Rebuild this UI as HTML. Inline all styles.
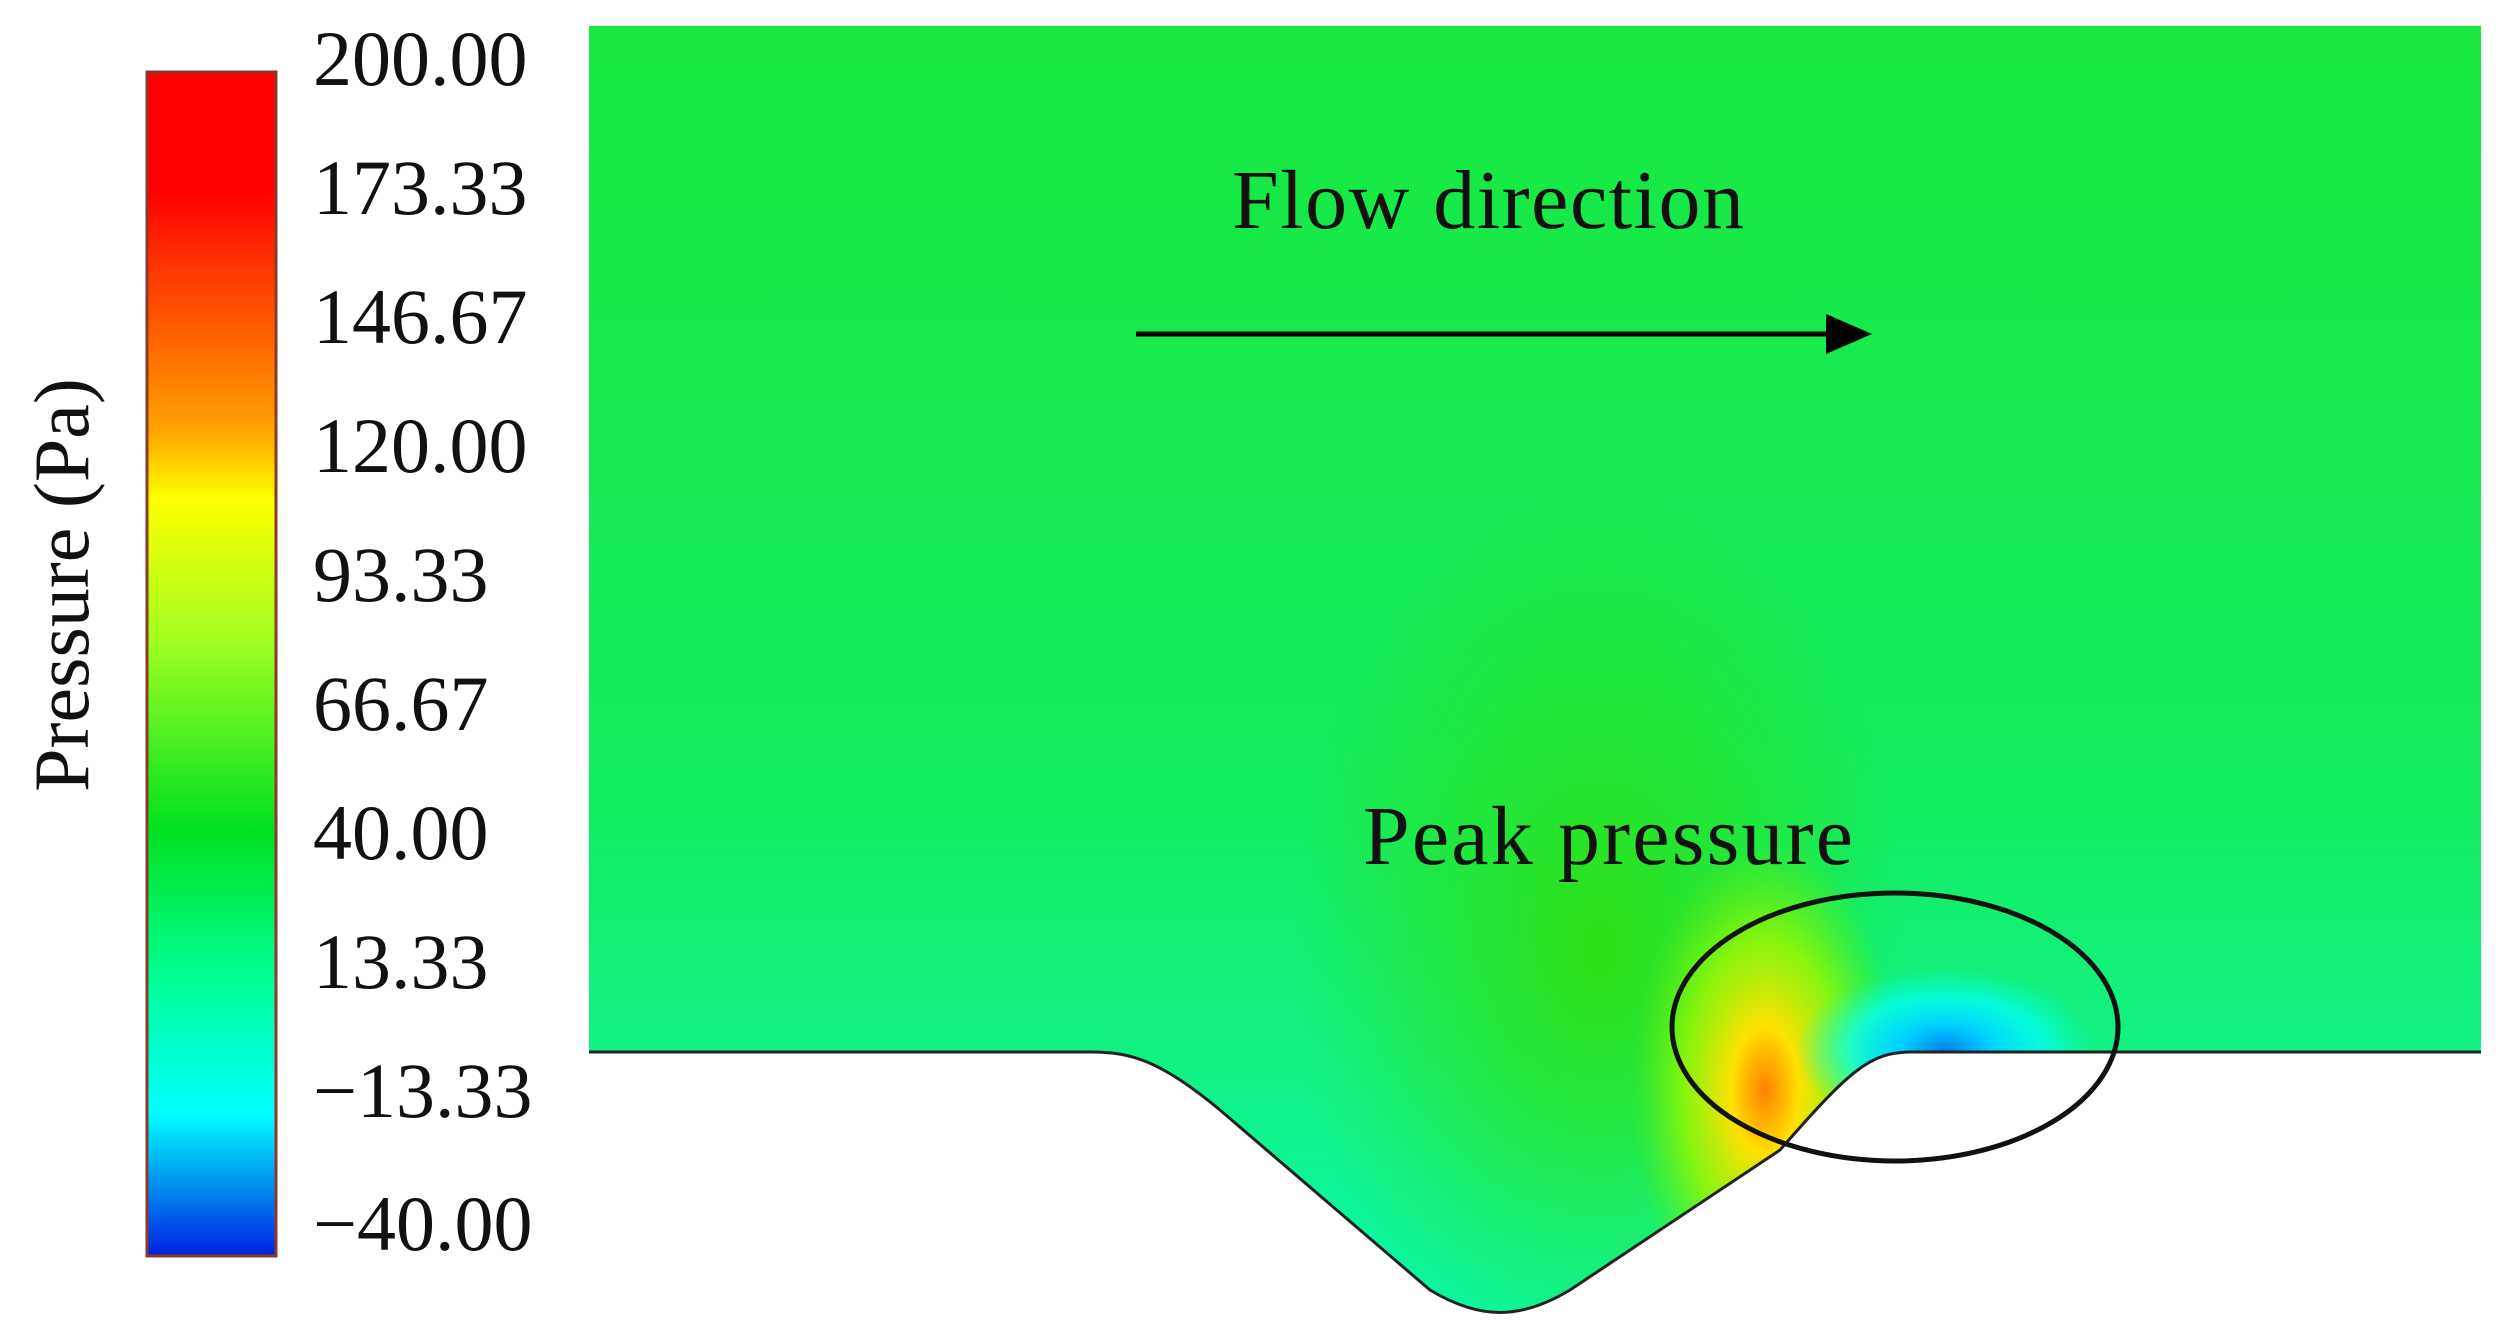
<!DOCTYPE html>
<html><head><meta charset="utf-8"><style>html,body{margin:0;padding:0;background:#fff}svg{display:block}</style></head>
<body>
<svg width="2515" height="1338" viewBox="0 0 2515 1338" xmlns="http://www.w3.org/2000/svg">
<defs>
<linearGradient id="cb" x1="0" y1="0" x2="0" y2="1">
<stop offset="0" stop-color="#ff0000"/>
<stop offset="0.1" stop-color="#ff0000"/>
<stop offset="0.22" stop-color="#ff6000"/>
<stop offset="0.3" stop-color="#ffa000"/>
<stop offset="0.36" stop-color="#ffff00"/>
<stop offset="0.48" stop-color="#a0ff20"/>
<stop offset="0.64" stop-color="#00e020"/>
<stop offset="0.76" stop-color="#00ff90"/>
<stop offset="0.88" stop-color="#00ffff"/>
<stop offset="1" stop-color="#0020e0"/>
</linearGradient>
<linearGradient id="bg" x1="0" y1="0" x2="0" y2="1">
<stop offset="0" stop-color="#18e840"/>
<stop offset="0.6" stop-color="#14ec60"/>
<stop offset="0.85" stop-color="#10f490"/>
<stop offset="1" stop-color="#08f8b0"/>
</linearGradient>
<radialGradient id="g1" cx="1600" cy="950" r="380" gradientUnits="userSpaceOnUse" gradientTransform="translate(1600 950) scale(0.8 1.2) translate(-1600 -950)">
<stop offset="0" stop-color="#30e010" stop-opacity="0.95"/>
<stop offset="1" stop-color="#30e010" stop-opacity="0"/>
</radialGradient>
<radialGradient id="hot" cx="1765" cy="1090" r="180" gradientUnits="userSpaceOnUse" gradientTransform="translate(1765 1090) scale(0.75 1.4) translate(-1765 -1090)">
<stop offset="0" stop-color="#ff8000"/>
<stop offset="0.25" stop-color="#ffe000"/>
<stop offset="0.6" stop-color="#a0f800" stop-opacity="0.8"/>
<stop offset="1" stop-color="#60f000" stop-opacity="0"/>
</radialGradient>
<radialGradient id="cold" cx="1945" cy="1050" r="150" gradientUnits="userSpaceOnUse" gradientTransform="translate(1945 1050) scale(1 0.55) translate(-1945 -1050)">
<stop offset="0" stop-color="#0080f0"/>
<stop offset="0.3" stop-color="#00d0ff"/>
<stop offset="0.65" stop-color="#00ffff" stop-opacity="0.7"/>
<stop offset="1" stop-color="#00ffe0" stop-opacity="0"/>
</radialGradient>
<clipPath id="dom"><path d="M589 26 H2481 V1052 H1911 C1870 1052 1850 1070 1780 1150 L1570 1290 C1520 1320 1480 1320 1430 1290 L1220 1110 C1160 1060 1130 1052 1091 1052 H589 Z"/></clipPath>
</defs>
<rect x="147" y="72" width="129" height="1184" fill="url(#cb)" stroke="#8a3a2a" stroke-width="3"/>
<g font-family="Liberation Serif, serif" font-size="78" fill="#111">
<text x="313" y="85">200.00</text>
<text x="313" y="214">173.33</text>
<text x="313" y="343">146.67</text>
<text x="313" y="472">120.00</text>
<text x="313" y="601">93.33</text>
<text x="313" y="730">66.67</text>
<text x="313" y="859">40.00</text>
<text x="313" y="988">13.33</text>
<text x="313" y="1117">−13.33</text>
<text x="313" y="1250">−40.00</text>
<text transform="translate(88 585) rotate(-90)" text-anchor="middle">Pressure (Pa)</text>
</g>
<g clip-path="url(#dom)">
<rect x="589" y="26" width="1892" height="1300" fill="url(#bg)"/>
<rect x="589" y="26" width="1892" height="1300" fill="url(#g1)"/>
<rect x="589" y="26" width="1892" height="1300" fill="url(#hot)"/>
<rect x="589" y="26" width="1892" height="1300" fill="url(#cold)"/>
</g>
<path d="M589 1052 H1091 C1130 1052 1160 1060 1220 1110 L1430 1290 C1480 1320 1520 1320 1570 1290 L1780 1150 C1850 1070 1870 1052 1911 1052 H2481" fill="none" stroke="#222" stroke-width="3"/>
<g font-family="Liberation Serif, serif" font-size="84" fill="#111">
<text x="1232" y="228" textLength="512">Flow direction</text>
<text x="1363" y="864" textLength="490">Peak pressure</text>
</g>
<line x1="1136" y1="334" x2="1830" y2="334" stroke="#000" stroke-width="5"/>
<polygon points="1872,334 1826,314 1826,354" fill="#000"/>
<ellipse cx="1895" cy="1027" rx="223" ry="134" fill="none" stroke="#111" stroke-width="5"/>
</svg>
</body></html>
